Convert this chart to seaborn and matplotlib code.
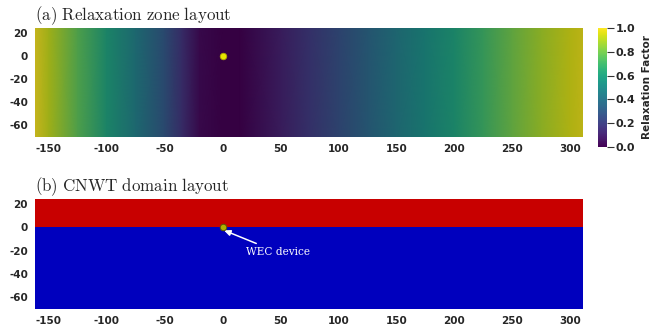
import numpy as np
import seaborn as sns
import matplotlib
matplotlib.use('Agg')
import matplotlib.pyplot as plt
from matplotlib.colors import ListedColormap, Normalize
from matplotlib.cm import ScalarMappable

# Relaxation factor profile read along the channel (x in m)
x_pts = [-162, -150, -125, -100, -75, -50, -35, -20, 0, 15, 50, 75, 100,
         125, 150, 175, 200, 225, 250, 275, 300, 311]
relax_factor = [1.0, 0.92, 0.76, 0.6, 0.45, 0.29, 0.16, 0.03, 0.0, 0.0, 0.1,
                0.18, 0.26, 0.35, 0.44, 0.52, 0.6, 0.7, 0.8, 0.88, 0.95, 0.98]

# Domain extents
domain_x = [-162, 311]
domain_y = [-70.5, 24.5]
free_surface = 0

# WEC device position
device_x = [0]
device_y = [0]

x_ticks = [-150, -100, -50, 0, 50, 100, 150, 200, 250, 300]
y_ticks = [20, 0, -20, -40, -60]
cbar_ticks = [0.0, 0.2, 0.4, 0.6, 0.8, 1.0]

sns.set_style('white')
plt.rcParams['mathtext.fontset'] = 'cm'
plt.rcParams['axes.unicode_minus'] = False

fig = plt.figure(figsize=(6.67, 3.28), dpi=100)
ax_a = fig.add_axes([0.0525, 0.5823, 0.8216, 0.3323])
ax_b = fig.add_axes([0.0525, 0.0579, 0.8216, 0.3354])
cax = fig.add_axes([0.8966, 0.5518, 0.0135, 0.3628])

# shaded look of the rendered field (slightly darker than the colour bar)
base = plt.get_cmap('viridis')(np.linspace(0, 1, 256))
shaded = ListedColormap(base[:, :3] * 0.78)

# (a) relaxation zones
xx, yy = np.meshgrid(x_pts, domain_y)
zz = np.vstack([relax_factor, relax_factor])
ax_a.pcolormesh(xx, yy, zz, cmap=shaded, vmin=0, vmax=1, shading='gouraud')
sns.scatterplot(x=device_x, y=device_y, ax=ax_a, s=22, color='#e6e600',
                edgecolor='#b0a800', linewidth=0.6, zorder=5, legend=False)

# (b) CNWT domain
ax_b.fill_between(domain_x, free_surface, domain_y[1], color='#c80000', lw=0)
ax_b.fill_between(domain_x, domain_y[0], free_surface, color='#0000be', lw=0)
sns.scatterplot(x=device_x, y=device_y, ax=ax_b, s=22, color='#b0b000',
                edgecolor='#5a5a00', linewidth=0.7, zorder=5, legend=False)
ax_b.annotate('WEC device', xy=(device_x[0] + 1.0, device_y[0] - 2.5),
              xytext=(20, -21.5), color='white', fontsize=7.6, family='DejaVu Serif',
              va='center', ha='left',
              arrowprops=dict(arrowstyle='-|>,head_length=0.5,head_width=0.22',
                              color='white', lw=1.1, shrinkA=1, shrinkB=0))

titles = [r'$\mathrm{(a)\ Relaxation\ zone\ layout}$',
          r'$\mathrm{(b)\ CNWT\ domain\ layout}$']
for ax, title in zip([ax_a, ax_b], titles):
    ax.set_xlim(domain_x)
    ax.set_ylim(domain_y)
    ax.set_xticks(x_ticks)
    ax.set_yticks(y_ticks)
    ax.tick_params(length=0, labelsize=7.5, pad=5)
    for lab in ax.get_xticklabels() + ax.get_yticklabels():
        lab.set_fontweight('bold')
        lab.set_family('DejaVu Sans')
    for sp in ax.spines.values():
        sp.set_visible(False)
    ax.set_title(title, loc='left', fontsize=12.2, pad=6)

# colour bar
sm = ScalarMappable(norm=Normalize(0, 1), cmap='viridis')
cb = fig.colorbar(sm, cax=cax, ticks=cbar_ticks)
cb.outline.set_visible(False)
cb.ax.tick_params(length=5, width=0.8, labelsize=8, color='#333333', pad=1)
cb.ax.set_yticklabels([f'{t:.1f}' for t in cbar_ticks], fontweight='bold')
cb.set_label('Relaxation Factor', fontsize=7.5, fontweight='bold', labelpad=5)

fig.savefig('out.png', dpi=100)
